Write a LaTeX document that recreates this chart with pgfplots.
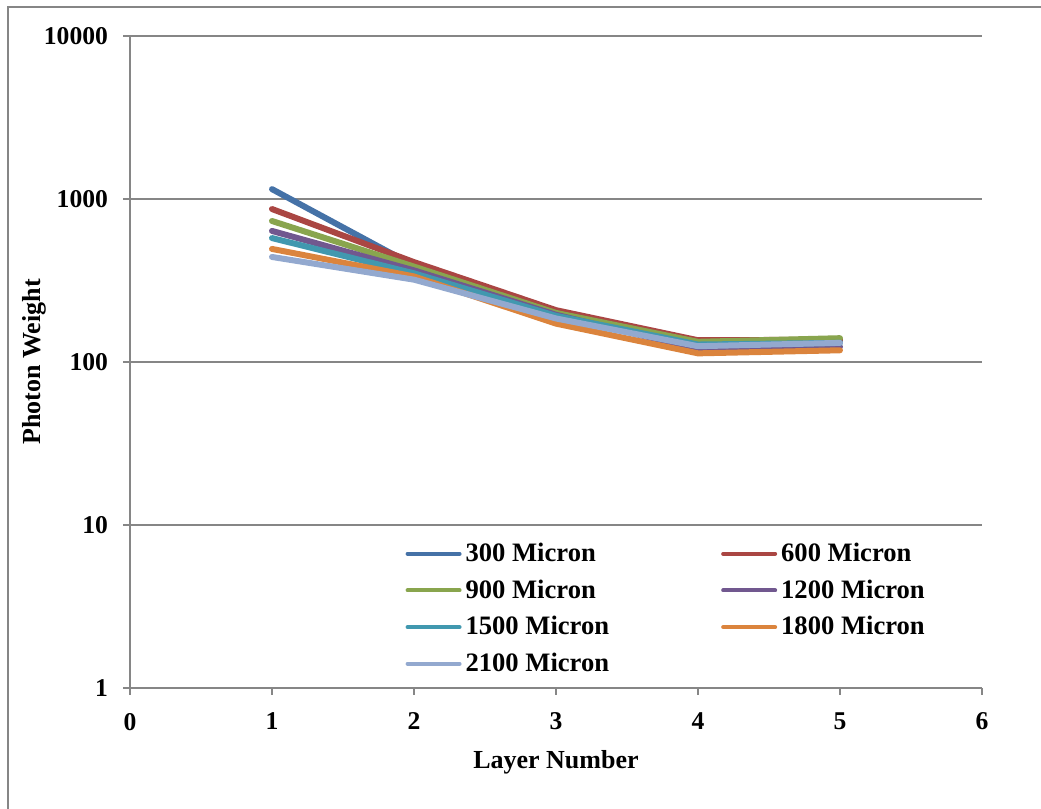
\documentclass[border=0pt]{standalone}
\usepackage{fontspec}
\setmainfont{Liberation Serif}
\usepackage{pgfplots}
\pgfplotsset{compat=1.18}
\definecolor{s1}{HTML}{4572A7}
\definecolor{s2}{HTML}{AA4643}
\definecolor{s3}{HTML}{89A54E}
\definecolor{s4}{HTML}{71588F}
\definecolor{s5}{HTML}{4198AF}
\definecolor{s6}{HTML}{DB843D}
\definecolor{s7}{HTML}{93A9CF}
\definecolor{ax}{RGB}{134,134,134}
\begin{document}
\begin{tikzpicture}
\path[use as bounding box] (0,0) rectangle (520.5pt,404.5pt);
\draw[ax, line width=1pt] (4pt,0) -- (4pt,401pt) -- (520.5pt,401pt);
\begin{axis}[
  at={(65pt,60.5pt)}, anchor=south west,
  scale only axis, width=426pt, height=326pt,
  ymode=log, ymin=1, ymax=10000,
  xmin=0, xmax=6,
  xtick={0,1,2,3,4,5,6},
  ytick={1,10,100,1000,10000},
  yticklabels={1,10,100,1000,10000},
  yminorticks=false,
  axis x line*=bottom, axis y line*=left,
  axis line style={ax, line width=0.9pt, -},
  ymajorgrids, grid style={ax, line width=0.8pt},
  tick style={ax, line width=0.9pt},
  tick align=outside, major tick length=3.5pt,
  /pgf/number format/assume math mode=true,
  ticklabel style={font=\fontsize{12.8}{15}\selectfont\bfseries},
  xticklabel style={yshift=-5.5pt},
  yticklabel style={xshift=-4pt},
  label style={font=\fontsize{13}{15}\selectfont\bfseries},
  xlabel={Layer Number},
  ylabel={Photon Weight},
  xlabel style={at={([yshift=-37pt]axis description cs:0.5,0)}, anchor=center},
  ylabel style={at={([xshift=-48pt]axis description cs:0,0.5)}, anchor=center},
  legend columns=2,
  legend style={draw=none, fill=none, at={(0.323,0.229)}, anchor=north west,
    font=\fontsize{13.3}{15}\selectfont\bfseries, row sep=3.6pt, inner sep=0pt},
  legend cell align=left,
  /tikz/every even column/.append style={column sep=54pt},
  legend image code/.code={\draw[#1, line width=2pt, line cap=round] (0pt,0pt) -- (26pt,0pt);},
  every axis plot/.append style={line width=3pt, line join=round, line cap=round, mark=none},
  clip=false,
]
\addplot[s1] coordinates {(1,1150) (2,390) (3,200) (4,130) (5,135)};
\addlegendentry{300 Micron}
\addplot[s2] coordinates {(1,868) (2,410) (3,208) (4,136) (5,137)};
\addlegendentry{600 Micron}
\addplot[s3] coordinates {(1,733) (2,385) (3,200) (4,133) (5,140)};
\addlegendentry{900 Micron}
\addplot[s4] coordinates {(1,637) (2,365) (3,195) (4,120) (5,124)};
\addlegendentry{1200 Micron}
\addplot[s5] coordinates {(1,576) (2,350) (3,192) (4,128) (5,131)};
\addlegendentry{1500 Micron}
\addplot[s6] coordinates {(1,494) (2,335) (3,172) (4,113) (5,118)};
\addlegendentry{1800 Micron}
\addplot[s7] coordinates {(1,441) (2,320) (3,185) (4,125) (5,131)};
\addlegendentry{2100 Micron}
\end{axis}
\end{tikzpicture}
\end{document}
